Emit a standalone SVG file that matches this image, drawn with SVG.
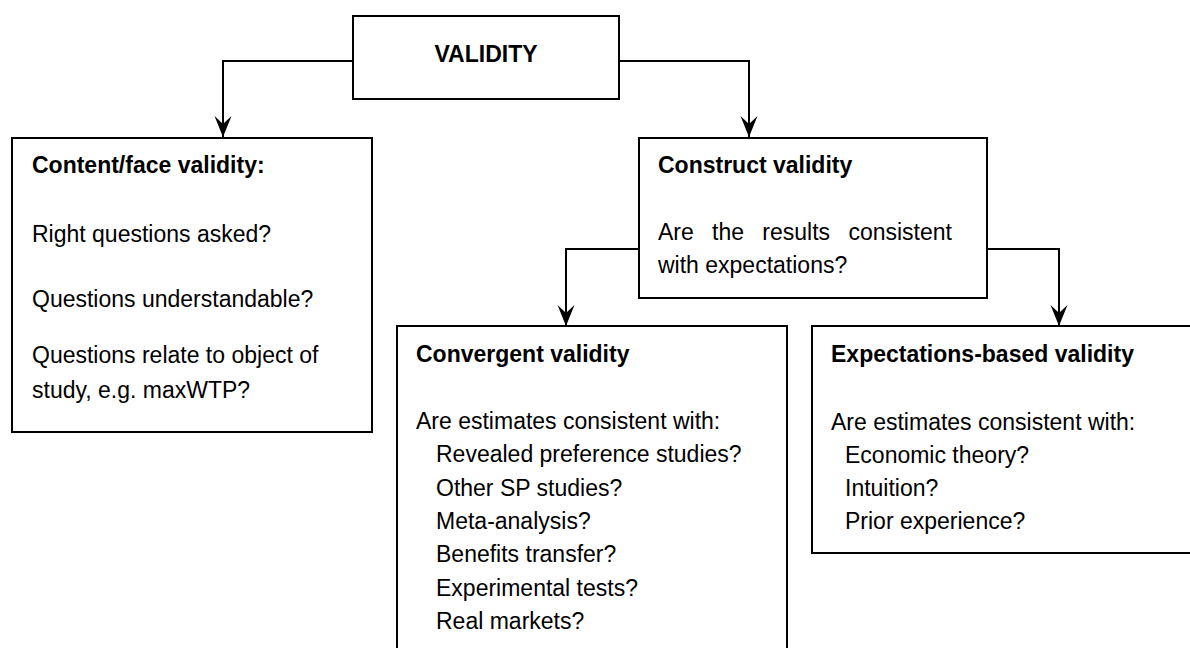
<svg xmlns="http://www.w3.org/2000/svg" width="1190" height="648" viewBox="0 0 1190 648">
<style>
.box{fill:#fff;stroke:#000;stroke-width:2}
.t{font-family:"Liberation Sans",Arial,sans-serif;font-size:23px;fill:#000}
.b{font-weight:bold}
.c{fill:none;stroke:#000;stroke-width:2}
</style>
<defs>
<marker id="ah" markerUnits="userSpaceOnUse" markerWidth="24" markerHeight="20" viewBox="-22 -10 24 20" refX="0" refY="0" orient="auto">
<path d="M0,0 L-21,-8.5 L-13,0 L-21,8.5 Z" fill="#000"/>
</marker>
</defs>
<rect width="1190" height="648" fill="#fff"/>
<g id="connectors">
<path class="c" d="M353,61 H223 V137" marker-end="url(#ah)"/>
<path class="c" d="M619,61 H749 V137" marker-end="url(#ah)"/>
<path class="c" d="M639,249 H566 V326" marker-end="url(#ah)"/>
<path class="c" d="M987,249 H1059 V326" marker-end="url(#ah)"/>
</g>
<g id="validity">
<rect class="box" x="353" y="16" width="266" height="83"/>
<text class="t b" x="486" y="62" text-anchor="middle">VALIDITY</text>
</g>
<g id="content">
<rect class="box" x="12" y="138" width="360" height="294"/>
<text class="t b" x="32" y="173">Content/face validity:</text>
<text class="t" x="32" y="242">Right questions asked?</text>
<text class="t" x="32" y="307">Questions understandable?</text>
<text class="t" x="32" y="363">Questions relate to object of</text>
<text class="t" x="32" y="398">study, e.g. maxWTP?</text>
</g>
<g id="construct">
<rect class="box" x="639" y="138" width="348" height="160"/>
<text class="t b" x="658" y="173">Construct validity</text>
<text class="t" x="658" y="240" word-spacing="11.9">Are the results consistent</text>
<text class="t" x="658" y="273">with expectations?</text>
</g>
<g id="convergent">
<rect class="box" x="397" y="326" width="390" height="340"/>
<text class="t b" x="416" y="362">Convergent validity</text>
<text class="t" x="416" y="429">Are estimates consistent with:</text>
<text class="t" x="436" y="462">Revealed preference studies?</text>
<text class="t" x="436" y="496">Other SP studies?</text>
<text class="t" x="436" y="529">Meta-analysis?</text>
<text class="t" x="436" y="562">Benefits transfer?</text>
<text class="t" x="436" y="596">Experimental tests?</text>
<text class="t" x="436" y="629">Real markets?</text>
</g>
<g id="expectations">
<rect class="box" x="812" y="326" width="390" height="227"/>
<text class="t b" x="831" y="362">Expectations-based validity</text>
<text class="t" x="831" y="430">Are estimates consistent with:</text>
<text class="t" x="845" y="463">Economic theory?</text>
<text class="t" x="845" y="496">Intuition?</text>
<text class="t" x="845" y="529">Prior experience?</text>
</g>
</svg>
